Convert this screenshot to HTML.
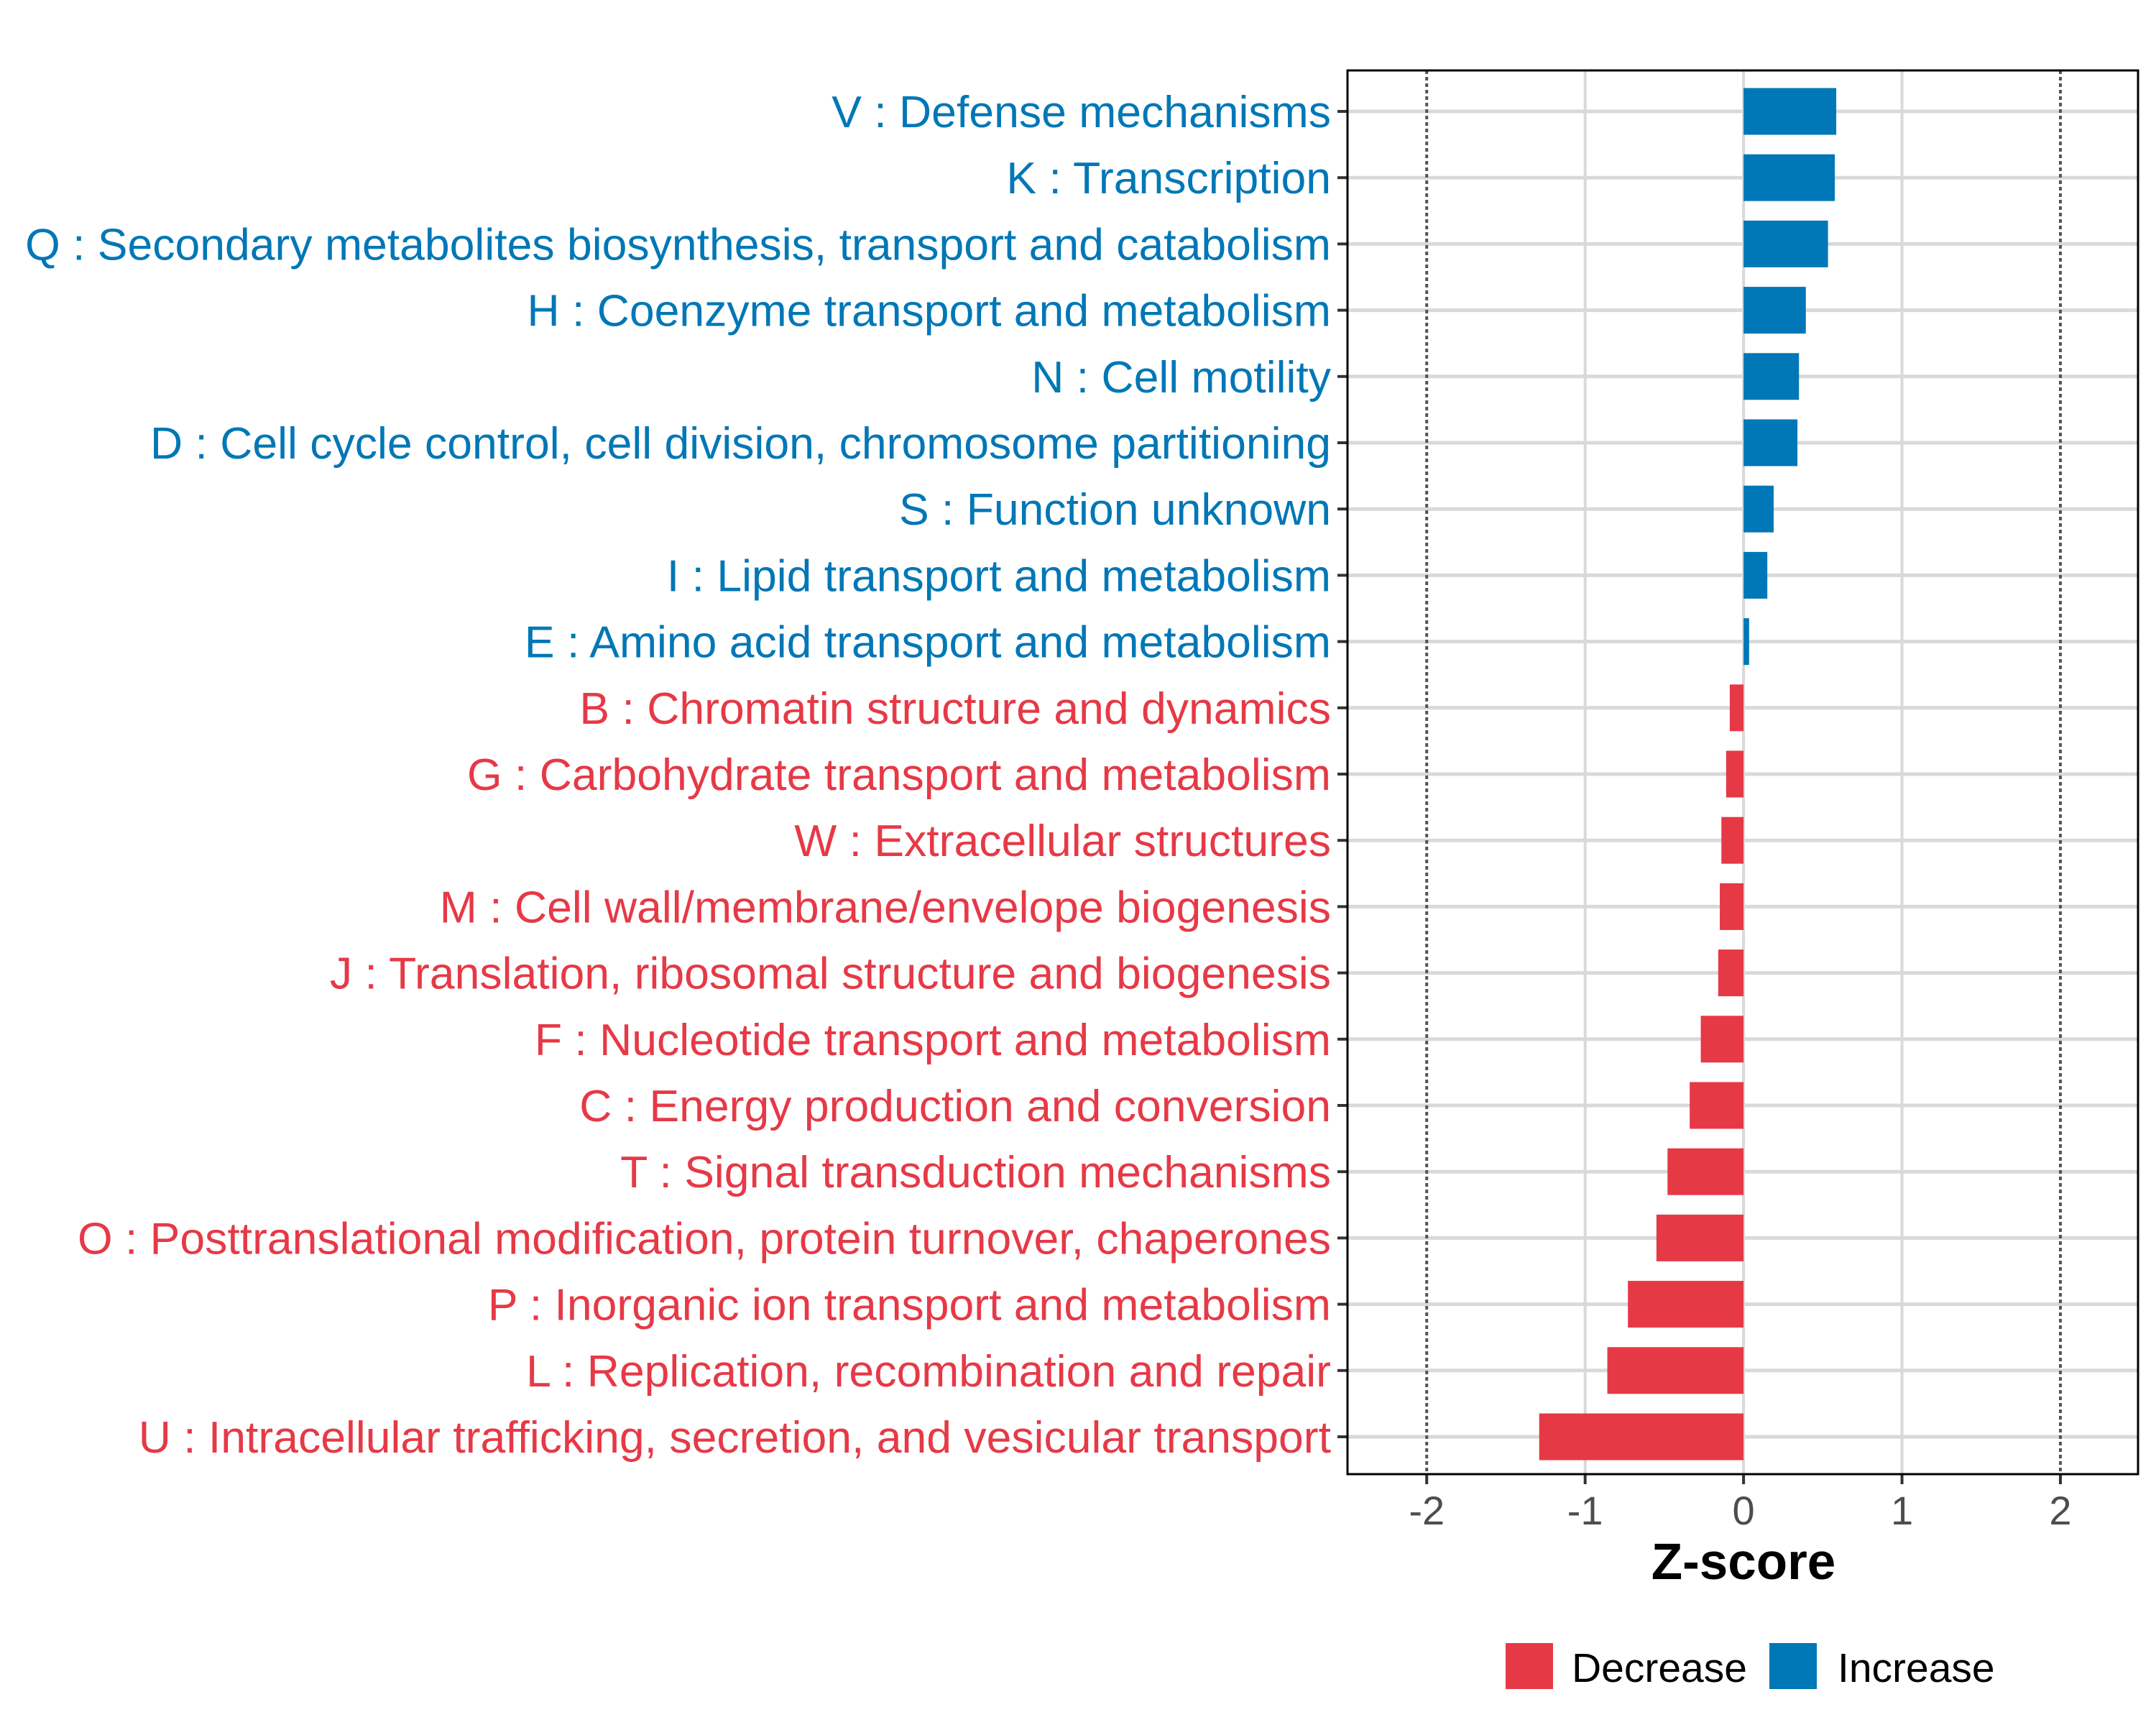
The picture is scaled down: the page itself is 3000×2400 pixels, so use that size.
<!DOCTYPE html>
<html><head><meta charset="utf-8"><style>
html,body{margin:0;padding:0;background:#fff}
svg{display:block;font-family:"Liberation Sans",Arial,sans-serif}
</style></head><body>
<svg id="chart" width="3000" height="2400" viewBox="0 0 3000 2400" xmlns="http://www.w3.org/2000/svg">
<rect width="3000" height="2400" fill="#fff"/>
<g id="grid"></g>
<g id="bars"></g>
<g id="ylabels"></g>
<g id="xaxis"></g>
<rect x="1875" y="98" width="1100" height="1953" fill="none" stroke="#000" stroke-width="3"/>
<text x="2426" y="2197" font-size="71" font-weight="bold" text-anchor="middle" fill="#000">Z-score</text>
<g>
<rect x="2095" y="2286" width="66" height="64" fill="#E63946"/>
<text x="2187" y="2340" font-size="57" fill="#000">Decrease</text>
<rect x="2462" y="2286" width="66" height="64" fill="#0077B6"/>
<text x="2557" y="2340" font-size="57" fill="#000">Increase</text>
</g>
</svg>
<script>
const categories = [
"V : Defense mechanisms","K : Transcription","Q : Secondary metabolites biosynthesis, transport and catabolism",
"H : Coenzyme transport and metabolism","N : Cell motility","D : Cell cycle control, cell division, chromosome partitioning",
"S : Function unknown","I : Lipid transport and metabolism","E : Amino acid transport and metabolism",
"B : Chromatin structure and dynamics","G : Carbohydrate transport and metabolism","W : Extracellular structures",
"M : Cell wall/membrane/envelope biogenesis","J : Translation, ribosomal structure and biogenesis",
"F : Nucleotide transport and metabolism","C : Energy production and conversion","T : Signal transduction mechanisms",
"O : Posttranslational modification, protein turnover, chaperones","P : Inorganic ion transport and metabolism",
"L : Replication, recombination and repair","U : Intracellular trafficking, secretion, and vesicular transport"];
const zscores = [0.585,0.576,0.533,0.393,0.35,0.34,0.19,0.15,0.035,-0.087,-0.11,-0.14,-0.15,-0.16,-0.27,-0.34,-0.48,-0.55,-0.73,-0.86,-1.29];
const xTicks = [-2,-1,0,1,2];
const xTickLabels = ["-2","-1","0","1","2"];
const threshold = [-2,2];

const NS="http://www.w3.org/2000/svg";
const L=1875,R=2975,T=98,B=2051;
const xmin=-2.5, xmax=2.49;
function x(v){return L+(v-xmin)/(xmax-xmin)*(R-L);}
const y0=155, step=(1999-155)/20;
function y(i){return y0+i*step;}
const barH=65;
function mk(tag,attrs,parent){const e=document.createElementNS(NS,tag);for(const k in attrs)e.setAttribute(k,attrs[k]);parent.appendChild(e);return e;}
const grid=document.getElementById('grid'),bars=document.getElementById('bars'),yl=document.getElementById('ylabels'),xa=document.getElementById('xaxis');
xTicks.forEach((t,i)=>{
  if(!threshold.includes(t)){
    const g=mk('line',{x1:x(t),x2:x(t),y1:T,y2:B,stroke:'#d9d9d9','stroke-width':4},grid);
    
    
  }
  const tk=mk('line',{x1:x(t),x2:x(t),y1:B,y2:B+14,stroke:'#333','stroke-width':4},xa);
  
  
  const tl=mk('text',{x:x(t),y:2121,'font-size':56,'text-anchor':'middle',fill:'#4d4d4d'},xa);
  tl.textContent=xTickLabels[i];
  
  
});
categories.forEach((c,i)=>{
  const g=mk('line',{x1:L,x2:R,y1:y(i),y2:y(i),stroke:'#d9d9d9','stroke-width':5},grid);
  
  
});
threshold.forEach(t=>{
  const d=mk('line',{x1:x(t),x2:x(t),y1:T,y2:B,stroke:'#555','stroke-width':4,'stroke-dasharray':'5 4'},grid);
  
  
});
categories.forEach((c,i)=>{
  const v=zscores[i];
  const col=v>=0?'#0077B6':'#E63946';
  const b=mk('rect',{x:Math.min(x(0),x(v)),y:y(i)-barH/2,width:Math.abs(x(v)-x(0)),height:barH,fill:col},bars);
  
  
  const tk=mk('line',{x1:L-14,x2:L,y1:y(i),y2:y(i),stroke:'#333','stroke-width':4},yl);
  
  
  const t=mk('text',{x:1852,y:y(i)+22,'font-size':62.5,'text-anchor':'end',fill:col},yl);
  t.textContent=c;
  
  
});
</script>
</body></html>
